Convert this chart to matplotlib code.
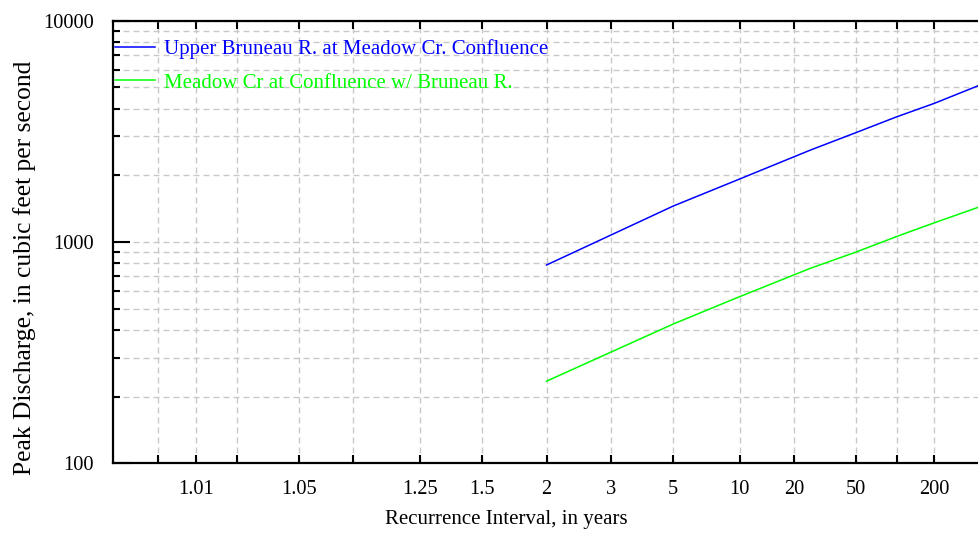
import math
import numpy as np
import matplotlib
matplotlib.use('Agg')
import matplotlib.pyplot as plt
from matplotlib.ticker import FixedLocator, FixedFormatter, LogLocator, NullFormatter

# recurrence intervals (years) and peak discharge (cfs)
recurrence = [2, 5, 10, 25, 50, 100, 200, 500]
upper_bruneau = [787, 1454, 1925, 2600, 3119, 3681, 4234, 5122]
meadow_cr = [235, 426, 566, 760, 900, 1060, 1222, 1444]

series_names = ['Upper Bruneau R. at Meadow Cr. Confluence',
                'Meadow Cr at Confluence w/ Bruneau R.']

# probability axis ticks (recurrence interval) and which ones get labels
tick_T = [1.005, 1.0101, 1.0204, 1.0526, 1.1111, 1.25, 1.5, 2, 3, 5, 10,
          20, 50, 100, 200, 500]
tick_text = ['', '1.01', '', '1.05', '', '1.25', '1.5', '2', '3', '5', '10',
             '20', '50', '', '200', '']

_erf = np.vectorize(math.erf, otypes=[float])


def norm_cdf(z):
    return 0.5 * (1.0 + _erf(np.asarray(z, dtype=float) / math.sqrt(2.0)))


def norm_ppf(p):
    p = np.asarray(p, dtype=float)
    lo = np.full(p.shape, -12.0)
    hi = np.full(p.shape, 12.0)
    for _ in range(60):
        mid = 0.5 * (lo + hi)
        below = norm_cdf(mid) < p
        lo = np.where(below, mid, lo)
        hi = np.where(below, hi, mid)
    return 0.5 * (lo + hi)


def T_to_z(T):
    T = np.asarray(T, dtype=float)
    with np.errstate(divide='ignore', invalid='ignore'):
        p = 1.0 - 1.0 / T
    p = np.nan_to_num(p, nan=1e-12)
    p = np.clip(p, 1e-12, 1 - 1e-12)
    return norm_ppf(p)


def z_to_T(z):
    q = 1.0 - norm_cdf(z)
    q = np.clip(q, 1e-15, 1.0)
    return 1.0 / q


plt.rcParams['font.family'] = ['Liberation Serif', 'DejaVu Serif']

fig = plt.figure(figsize=(9.79, 5.35), dpi=100)
ax = fig.add_axes([113 / 979, 71.7 / 535, 867 / 979, 442.6 / 535])

ax.set_xscale('function', functions=(T_to_z, z_to_T))
ax.set_yscale('log')

ax.plot(recurrence, upper_bruneau, color='#0000ff', lw=1.1, label=series_names[0])
ax.plot(recurrence, meadow_cr, color='#00ff00', lw=1.1, label=series_names[1])

ax.set_xlim(1 / 0.998, 500)
ax.set_ylim(100, 10000)

ax.xaxis.set_major_locator(FixedLocator(tick_T))
ax.xaxis.set_major_formatter(FixedFormatter(tick_text))
ax.xaxis.set_minor_locator(FixedLocator([]))
ax.yaxis.set_major_locator(FixedLocator([100, 1000, 10000]))
ax.yaxis.set_major_formatter(FixedFormatter(['100', '1000', '10000']))
ax.yaxis.set_minor_locator(LogLocator(base=10, subs=np.arange(2, 10)))
ax.yaxis.set_minor_formatter(NullFormatter())

grid_kw = dict(color='#c8c8c8', lw=1.0, linestyle=(0, (4.3, 2.9)))
ax.grid(True, which='major', axis='x', **grid_kw)
ax.grid(True, which='both', axis='y', **grid_kw)
ax.set_axisbelow(True)

ax.tick_params(axis='x', which='major', direction='in', length=6, width=1.5,
               top=True, bottom=True, labelsize=14.7, pad=12)
ax.tick_params(axis='y', which='major', direction='in', length=12, width=1.5,
               labelsize=14.7, pad=14)
ax.tick_params(axis='y', which='minor', direction='in', length=5, width=1.5)

for side in ['left', 'bottom', 'top']:
    ax.spines[side].set_linewidth(1.6)
ax.spines['right'].set_visible(False)

ax.set_xlabel('Recurrence Interval, in years', fontsize=15)
ax.set_ylabel('Peak Discharge, in cubic feet per second', fontsize=18.4)
ax.xaxis.set_label_coords(0.4533, -0.105)
ax.yaxis.set_label_coords(-0.0888, 0.4424)

ax.legend(loc='upper left', bbox_to_anchor=(0.0, 1 - 16.7 / 442.6),
          frameon=False, fontsize=15, handlelength=1.92, handletextpad=0.43,
          borderpad=0.1, borderaxespad=0, labelspacing=0.66,
          labelcolor='linecolor')

fig.savefig('out.png', dpi=100)
